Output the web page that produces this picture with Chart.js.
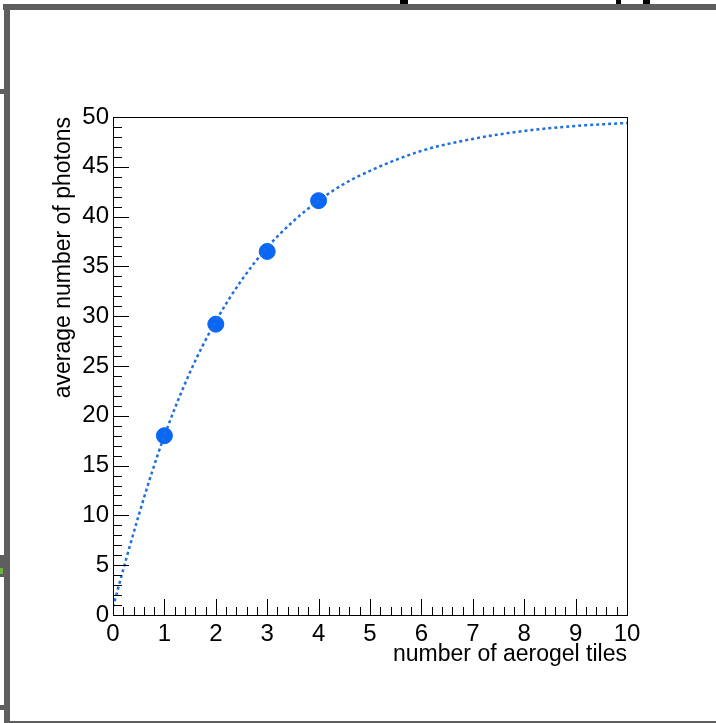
<!DOCTYPE html>
<html>
<head>
<meta charset="utf-8">
<title>average number of photons</title>
<script src="https://cdn.jsdelivr.net/npm/chart.js@4"></script>
<style>
  html, body { margin: 0; padding: 0; background: #fff; }
  #wrap { position: relative; width: 716px; height: 723px; overflow: hidden; }
  #wrap canvas { position: absolute; left: 0; top: 0; }
  .frame { position: absolute; background: #5e5e5e; }
</style>
</head>
<body>
<div id="wrap">
  <canvas id="myChart" width="716" height="723"></canvas>
  <!-- window frame around the ROOT canvas -->
  <div class="frame" style="left:3px;top:4px;width:713px;height:6px"></div>
  <div class="frame" style="left:4px;top:4px;width:6px;height:719px"></div>
  <div class="frame" style="left:9px;top:721px;width:707px;height:2px"></div>
  <div class="frame" style="left:0;top:89px;width:4px;height:5px"></div>
  <div class="frame" style="left:0;top:555px;width:4px;height:22px"></div>
  <div class="frame" style="left:0;top:568px;width:3px;height:6px;background:#6db33f"></div>
  <div class="frame" style="left:0;top:705px;width:4px;height:5px"></div>
  <div class="frame" style="left:400px;top:0;width:8px;height:4px;background:#000"></div>
  <div class="frame" style="left:616px;top:0;width:5px;height:4px;background:#000"></div>
  <div class="frame" style="left:643px;top:0;width:7px;height:4px;background:#000"></div>
</div>
<script>
// measured points
const tiles = [1, 2, 3, 4];
const photons = [18.0, 29.2, 36.5, 41.6];

// dotted fit curve
const fitX = [0, 0.25, 0.5, 0.75, 1, 1.5, 2, 2.5, 3, 3.5, 4, 4.5, 5, 6, 7, 8, 9, 10];
const fitY = [0.8, 5.5, 10.0, 14.2, 18.0, 24.4, 29.5, 33.6, 36.9, 39.5, 41.6, 43.3, 44.6, 46.6, 47.8, 48.6, 49.1, 49.4];

const xTicks = [0, 1, 2, 3, 4, 5, 6, 7, 8, 9, 10];
const yTicks = [0, 5, 10, 15, 20, 25, 30, 35, 40, 45, 50];

const FONT = 'Liberation Sans, Arial, Helvetica, sans-serif';

// ROOT style ticks drawn inward + box around the pad
const rootAxes = {
    id: 'rootAxes',
    afterDraw(chart) {
        const {ctx, chartArea: a, scales: {x, y}} = chart;
        ctx.save();
        ctx.strokeStyle = '#000';
        ctx.lineWidth = 1;
        ctx.strokeRect(a.left + 0.5, a.top + 0.5, a.right - a.left, a.bottom - a.top);
        ctx.beginPath();
        for (let v = 0; v <= 10.001; v += 0.2) {
            const px = Math.round(x.getPixelForValue(v)) + 0.5;
            const major = Math.abs(v - Math.round(v)) < 0.01;
            ctx.moveTo(px, a.bottom);
            ctx.lineTo(px, a.bottom - (major ? 16 : 8));
        }
        for (let v = 0; v <= 50; v += 1) {
            const py = Math.round(y.getPixelForValue(v)) + 0.5;
            ctx.moveTo(a.left, py);
            ctx.lineTo(a.left + (v % 5 === 0 ? 16 : 9), py);
        }
        ctx.stroke();
        ctx.restore();
    }
};

var ctx = document.querySelector('#myChart');
var myChart = new Chart(ctx, {
    type: 'scatter',
    data: {
        datasets: [{
            label: 'fit',
            type: 'line',
            data: fitX.map((v, i) => ({x: v, y: fitY[i]})),
            borderColor: '#1f6fdc',
            borderWidth: 2.5,
            borderDash: [3, 3],
            pointRadius: 0,
            cubicInterpolationMode: 'monotone',
            fill: false
        }, {
            label: 'data',
            data: tiles.map((v, i) => ({x: v, y: photons[i]})),
            backgroundColor: '#0a66f5',
            borderColor: '#0a66f5',
            pointRadius: 8,
            showLine: false
        }]
    },
    options: {
        responsive: false,
        animation: false,
        devicePixelRatio: 1,
        layout: {padding: {top: 117, right: 89, left: 0, bottom: 0}},
        plugins: {legend: {display: false}, tooltip: {enabled: false}},
        scales: {
            x: {
                type: 'linear', min: 0, max: 10,
                afterFit: s => { s.height = 108 },
                afterBuildTicks: s => { s.ticks = xTicks.map(v => ({value: v})) },
                grid: {display: false, tickLength: 0},
                border: {display: false},
                ticks: {color: '#000', padding: 5, maxRotation: 0, font: {family: FONT, size: 24}},
                title: {
                    display: true, text: 'number of aerogel tiles', align: 'end',
                    color: '#000', font: {family: FONT, size: 23},
                    padding: {top: 0, bottom: 55}
                }
            },
            y: {
                type: 'linear', min: 0, max: 50,
                afterFit: s => { s.width = 113 },
                afterBuildTicks: s => { s.ticks = yTicks.map(v => ({value: v})) },
                grid: {display: false, tickLength: 0},
                border: {display: false},
                ticks: {color: '#000', padding: 4, font: {family: FONT, size: 24}},
                title: {
                    display: true, text: 'average number of photons', align: 'end',
                    color: '#000', font: {family: FONT, size: 23},
                    padding: {top: 50, bottom: 0}
                }
            }
        }
    },
    plugins: [rootAxes]
});
</script>
</body>
</html>
